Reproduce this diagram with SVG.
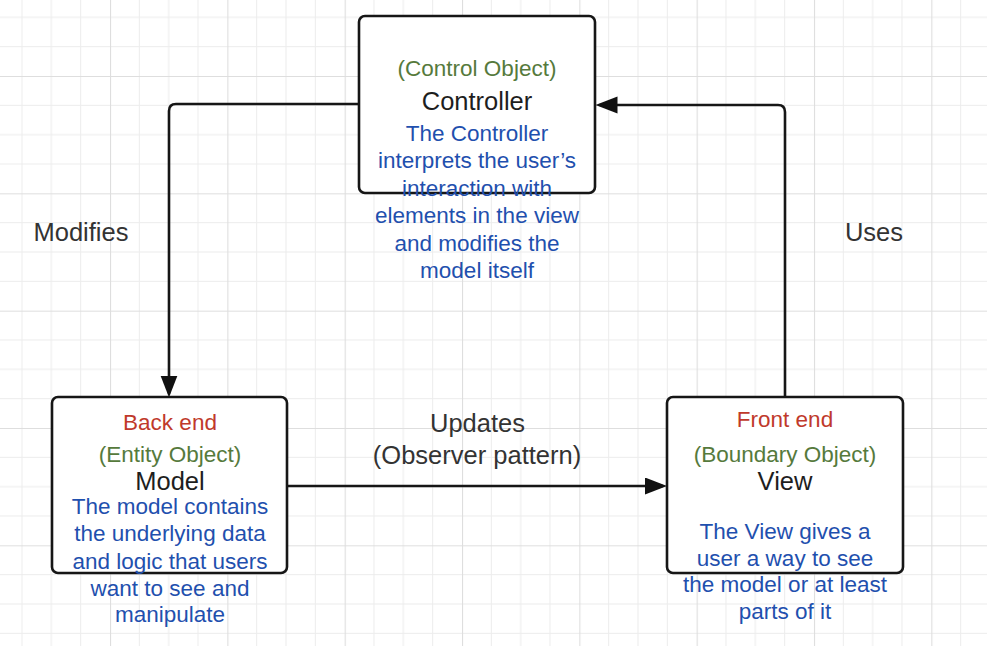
<svg xmlns="http://www.w3.org/2000/svg" width="987" height="646" viewBox="0 0 987 646">
<style>
text{font-family:"Liberation Sans",Arial,Helvetica,sans-serif;text-anchor:middle}
.box{fill:#fff;stroke:#161616;stroke-width:2.6}
.conn{fill:none;stroke:#161616;stroke-width:2.6}
.g{fill:#567a3c;font-size:22.5px}
.r{fill:#c0392b;font-size:22.5px}
.k{fill:#1e1e1e;font-size:25.5px}
.b{fill:#1f50ae;font-size:22.5px}
.lbl{fill:#333;font-size:25.5px}
</style>
<defs>
<pattern id="grid" patternUnits="userSpaceOnUse" x="-7.33" y="-41.33" width="117.33" height="117.33">
<g stroke="#ececec" stroke-width="1" fill="none">
<path d="M29.33,0V117.33M58.67,0V117.33M88,0V117.33M0,29.33H117.33M0,58.67H117.33M0,88H117.33"/>
</g>
<path d="M0.5,0V117.33M0,0.5H117.33" stroke="#dedede" stroke-width="1.2" fill="none"/>
</pattern>
<marker id="arr" markerUnits="userSpaceOnUse" markerWidth="24" markerHeight="20" refX="18" refY="8.5" orient="auto">
<path d="M0,0L22,8.5L0,17z" fill="#111"/>
</marker>
</defs>
<rect width="987" height="646" fill="#fff"/>
<rect width="987" height="646" fill="url(#grid)"/>
<g id="connectors">
<path class="conn" d="M359,104H176Q169,104 169,111V393.5" marker-end="url(#arr)"/>
<path class="conn" d="M785,397V112Q785,105 778,105H599.5" marker-end="url(#arr)"/>
<path class="conn" d="M287,486H663" marker-end="url(#arr)"/>
<text class="lbl" x="81" y="241">Modifies</text>
<text class="lbl" x="874" y="241">Uses</text>
<text class="lbl" x="477.5" y="432">Updates</text>
<text class="lbl" x="477" y="464">(Observer pattern)</text>
</g>
<g id="controller">
<rect class="box" x="359" y="16" width="236" height="177" rx="6"/>
<text class="g" x="477" y="76">(Control Object)</text>
<text class="k" x="477" y="110">Controller</text>
<text class="b" x="477" y="140.5">The Controller</text>
<text class="b" x="477" y="168">interprets the user’s</text>
<text class="b" x="477" y="195.5">interaction with</text>
<text class="b" x="477" y="223">elements in the view</text>
<text class="b" x="477" y="250.5">and modifies the</text>
<text class="b" x="477" y="278">model itself</text>
</g>
<g id="model">
<rect class="box" x="52" y="397" width="235" height="176" rx="6"/>
<text class="r" x="170" y="430">Back end</text>
<text class="g" x="170" y="461.5">(Entity Object)</text>
<text class="k" x="170" y="490">Model</text>
<text class="b" x="170" y="513.5">The model contains</text>
<text class="b" x="170" y="541">the underlying data</text>
<text class="b" x="170" y="568.5">and logic that users</text>
<text class="b" x="170" y="595.5">want to see and</text>
<text class="b" x="170" y="622">manipulate</text>
</g>
<g id="view">
<rect class="box" x="667" y="397" width="236" height="176" rx="6"/>
<text class="r" x="785" y="427">Front end</text>
<text class="g" x="785" y="461.5">(Boundary Object)</text>
<text class="k" x="785" y="490">View</text>
<text class="b" x="785" y="538.5">The View gives a</text>
<text class="b" x="785" y="565.5">user a way to see</text>
<text class="b" x="785" y="592">the model or at least</text>
<text class="b" x="785" y="619">parts of it</text>
</g>
</svg>
